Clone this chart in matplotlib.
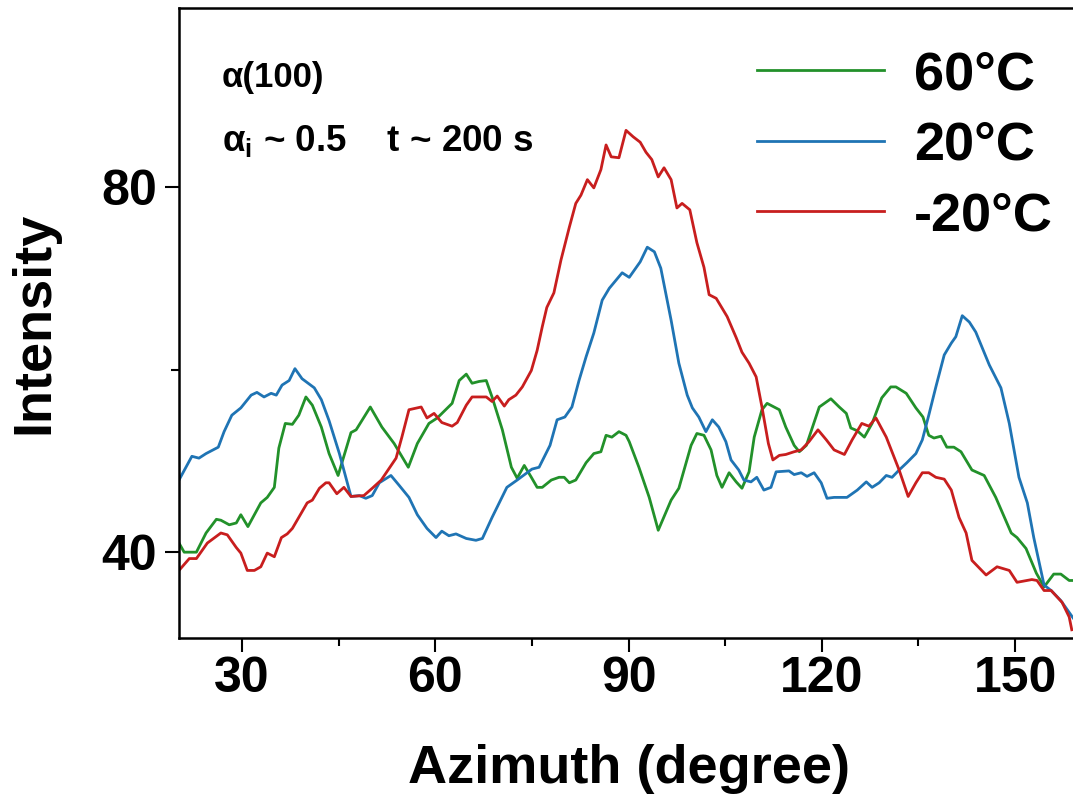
import matplotlib
matplotlib.use("Agg")
import matplotlib.pyplot as plt
from matplotlib.ticker import MultipleLocator, FixedLocator

plt.rcParams['font.family'] = ['Liberation Sans', 'DejaVu Sans']
plt.rcParams['font.weight'] = 'bold'
plt.rcParams['mathtext.fontset'] = 'custom'
plt.rcParams['mathtext.rm'] = 'Liberation Sans:bold'
plt.rcParams['mathtext.it'] = 'Liberation Sans:bold'
plt.rcParams['mathtext.bf'] = 'Liberation Sans:bold'

# valores (azimute em graus, intensidade)
azim_60 = [20.2, 21.0, 22.9, 24.4, 26.0, 26.7, 28.0, 29.1, 29.8, 30.9, 32.9, 33.9, 35.0, 35.7, 36.7,
           37.8, 38.8, 39.9, 40.9, 42.3, 43.5, 44.9, 46.9, 47.7, 49.9, 51.7, 53.6, 55.8, 57.2, 59.0,
           60.3, 62.6, 63.7, 64.8, 65.7, 66.8, 67.9, 68.8, 70.4, 71.8, 72.7, 73.8, 74.9, 75.8, 76.6,
           78.0, 79.2, 80.0, 80.8, 81.8, 83.4, 84.6, 85.7, 86.5, 87.4, 88.5, 89.6, 90.1, 91.6, 93.2,
           94.6, 96.6, 97.8, 99.7, 100.6, 101.7, 102.8, 103.7, 104.5, 105.6, 106.7, 107.6, 108.7, 109.5,
           110.7, 111.5, 113.4, 114.4, 115.7, 116.5, 117.6, 119.6, 121.4, 122.7, 123.8, 124.5, 125.5,
           126.6, 127.8, 129.3, 130.7, 131.5, 133.1, 134.6, 135.7, 136.6, 137.4, 138.5, 139.4, 140.5,
           141.6, 143.3, 145.2, 147.0, 149.4, 150.3, 151.7, 153.3, 154.5, 156.0, 157.1, 158.4, 159.0]
int_60 = [41.0, 40.0, 40.0, 42.1, 43.6, 43.5, 43.0, 43.2, 44.1, 42.8, 45.4, 46.0, 47.1, 51.4, 54.1,
          54.0, 55.0, 57.0, 56.1, 53.7, 50.8, 48.4, 53.1, 53.4, 55.9, 53.7, 51.9, 49.3, 51.9, 54.1,
          54.7, 56.3, 58.8, 59.5, 58.5, 58.7, 58.8, 57.0, 53.4, 49.3, 48.1, 49.5, 48.2, 47.1, 47.1,
          47.9, 48.2, 48.2, 47.6, 47.9, 49.8, 50.8, 51.0, 52.8, 52.6, 53.2, 52.8, 52.1, 49.3, 46.0,
          42.4, 45.7, 47.0, 51.7, 53.0, 52.8, 51.2, 48.4, 47.1, 48.7, 47.7, 47.0, 48.8, 52.6,
          55.6, 56.3, 55.6, 53.7, 51.7, 51.0, 51.7, 55.9, 56.8, 55.9, 55.2, 53.6, 53.3,
          52.6, 54.1, 56.9, 58.1, 58.1, 57.4, 55.8, 54.8, 52.8, 52.5, 52.7, 51.5, 51.5,
          51.0, 49.0, 48.4, 46.0, 42.1, 41.6, 40.4, 37.7, 36.2, 37.6, 37.6, 36.9, 36.9]

azim_20 = [20.2, 22.2, 23.3, 24.4, 26.3, 27.2, 28.4, 29.8, 31.4, 32.3, 33.4, 34.5, 35.3, 36.2, 37.3,
           38.2, 39.3, 41.2, 42.3, 43.5, 45.1, 46.9, 48.2, 49.2, 50.2, 51.3, 53.1, 54.4, 55.9, 57.2,
           58.7, 60.1, 61.0, 62.1, 63.2, 64.8, 66.3, 67.3, 68.8, 71.1, 72.7, 75.0, 76.1, 77.8, 78.9,
           80.1, 81.2, 82.3, 83.4, 84.6, 85.9, 87.0, 89.0, 90.1, 91.8, 92.9, 94.0, 95.0, 96.6, 97.8,
           99.1, 99.9, 100.9, 102.0, 103.0, 104.0, 105.1, 105.9, 107.1, 107.9, 109.0, 109.9, 111.0,
           112.1, 112.9, 114.9, 115.7, 116.8, 117.7, 118.8, 119.9, 120.8, 121.9, 123.9, 125.5, 126.9,
           127.8, 128.9, 130.0, 130.9, 132.0, 133.2, 134.6, 135.6, 136.6, 137.7, 139.0, 140.1, 140.8,
           141.8, 142.9, 143.9, 146.0, 147.8, 149.1, 150.6, 151.9, 152.9, 154.5, 155.6, 157.1, 159.0]
int_20 = [47.9, 50.5, 50.3, 50.8, 51.5, 53.2, 55.0, 55.8, 57.2, 57.5, 57.0, 57.4, 57.2, 58.3, 58.8,
          60.1, 59.0, 58.0, 56.7, 54.4, 50.8, 46.1, 46.2, 45.9, 46.2, 47.6, 48.4, 47.3, 46.0, 44.1,
          42.6, 41.6, 42.3, 41.8, 42.0, 41.5, 41.3, 41.5, 43.8, 47.1, 47.9, 49.1, 49.3, 51.7, 54.5,
          54.8, 55.9, 58.8, 61.4, 64.0, 67.6, 68.9, 70.6, 70.1, 71.8, 73.4, 72.9, 71.1, 65.4, 60.7,
          57.2, 55.8, 54.8, 53.2, 54.5, 53.7, 52.1, 50.1, 49.0, 47.9, 47.7, 48.2, 46.8,
          47.1, 48.8, 48.9, 48.5, 48.7, 48.3, 48.7, 47.6, 45.9, 46.0, 46.0, 46.8, 47.7,
          47.1, 47.6, 48.4, 48.2, 49.0, 49.8, 50.8, 52.3, 55.0, 58.1, 61.6, 62.9, 63.6,
          65.9, 65.2, 64.1, 60.5, 58.0, 54.1, 48.2, 45.4, 41.6, 36.4, 35.8, 34.7, 32.8]

azim_m20 = [20.2, 21.8, 22.9, 24.6, 26.7, 27.7, 29.1, 29.8, 30.8, 31.9, 32.9, 33.9, 35.0, 36.1, 37.0,
            37.8, 39.2, 40.1, 40.9, 42.0, 43.0, 43.5, 44.7, 45.8, 46.9, 48.9, 50.2, 51.6, 53.9, 54.8,
            55.9, 57.8, 58.7, 59.8, 61.0, 62.6, 63.4, 64.8, 65.7, 66.8, 67.9, 68.8, 69.6, 70.7, 71.4,
            72.5, 73.5, 74.9, 75.8, 76.6, 77.3, 78.4, 79.5, 80.8, 81.8, 82.6, 83.6, 84.6, 85.7, 86.5,
            87.3, 88.5, 89.6, 90.7, 91.8, 92.7, 93.6, 94.6, 95.5, 96.6, 97.5, 98.3, 99.5, 100.6, 101.7,
            102.5, 103.6, 105.3, 106.7, 107.6, 108.7, 109.8, 110.7, 111.7, 112.4, 113.4, 114.4, 115.7,
            116.8, 118.0, 119.4, 120.7, 121.9, 123.5, 124.7, 126.2, 127.3, 128.4, 130.0, 132.0, 133.4,
            134.6, 135.6, 136.6, 137.7, 139.0, 140.1, 141.3, 142.4, 143.3, 145.5, 147.2, 149.1, 150.3,
            152.6, 153.4, 154.5, 155.6, 157.3, 158.4, 158.8]
int_m20 = [38.0, 39.3, 39.3, 41.0, 42.1, 41.9, 40.5, 39.9, 38.0, 38.0, 38.4, 39.9, 39.5, 41.6, 42.0,
           42.6, 44.3, 45.4, 45.7, 47.0, 47.6, 47.6, 46.4, 47.1, 46.1, 46.2, 47.0, 47.9, 50.3, 52.6,
           55.6, 55.9, 54.7, 55.2, 54.2, 53.8, 54.2, 56.1, 57.0, 57.0, 57.0, 56.5, 57.1, 56.0, 56.7,
           57.2, 58.1, 59.9, 62.1, 64.7, 66.8, 68.4, 72.0, 75.6, 78.2, 79.1, 80.8, 79.9, 81.9, 84.6,
           83.3, 83.2, 86.2, 85.5, 84.9, 83.8, 83.0, 81.1, 82.1, 80.8, 77.7, 78.2, 77.5, 73.9, 71.2,
           68.2, 67.8, 65.8, 63.5, 61.9, 60.7, 59.2, 55.9, 51.9, 50.1, 50.6, 50.7, 51.0,
           51.2, 52.1, 53.4, 52.3, 51.2, 50.7, 52.3, 54.1, 53.8, 54.7, 52.6, 49.0, 46.1,
           47.6, 48.7, 48.7, 48.2, 48.0, 46.8, 43.8, 42.1, 39.1, 37.5, 38.4, 38.0, 36.7,
           37.0, 36.9, 35.8, 35.8, 34.5, 32.9, 31.5]

series = [("60°C", azim_60, int_60, "#22912a"),
          ("20°C", azim_20, int_20, "#1f74b4"),
          ("-20°C", azim_m20, int_m20, "#c81e1e")]

fig = plt.figure(figsize=(10.73, 8.07), dpi=100)
ax = fig.add_axes([179 / 1073, 169 / 807, 900.5 / 1073, 630 / 807])

for nome, x, y, cor in series:
    ax.plot(x, y, color=cor, lw=2.0, label=nome)

ax.set_xlim(20.2, 160)
ax.set_ylim(30.6, 99.6)
ax.xaxis.set_major_locator(MultipleLocator(30))
ax.xaxis.set_minor_locator(MultipleLocator(15))
ax.yaxis.set_major_locator(FixedLocator([40, 80]))
ax.yaxis.set_minor_locator(FixedLocator([60]))
ax.tick_params(which='major', direction='out', length=10, width=1.5, labelsize=36, pad=3)
ax.tick_params(axis='y', which='major', pad=6)
ax.tick_params(which='minor', direction='out', length=6, width=1.5)
for s in ax.spines.values():
    s.set_linewidth(1.8)

ax.set_xlabel("Azimuth (degree)", fontsize=39, fontweight='bold', labelpad=30)
ax.set_ylabel("Intensity", fontsize=39, fontweight='bold', labelpad=30)

fig.text(222 / 1073, 1 - 77 / 807, "α(100)", fontsize=25, va='center', ha='left')
fig.text(222 / 1073, 1 - 141 / 807, r"α$_\mathrm{i}$ ~ 0.5    t ~ 200 s", fontsize=26.5,
         va='center', ha='left')

ax.legend(loc='upper right', bbox_to_anchor=(1053 / 1073, 1 - 50 / 807),
          bbox_transform=fig.transFigure, frameon=False, fontsize=39,
          handlelength=2.35, handletextpad=0.55, labelspacing=0.38,
          borderpad=0, borderaxespad=0)

fig.savefig("out.png", dpi=100)
